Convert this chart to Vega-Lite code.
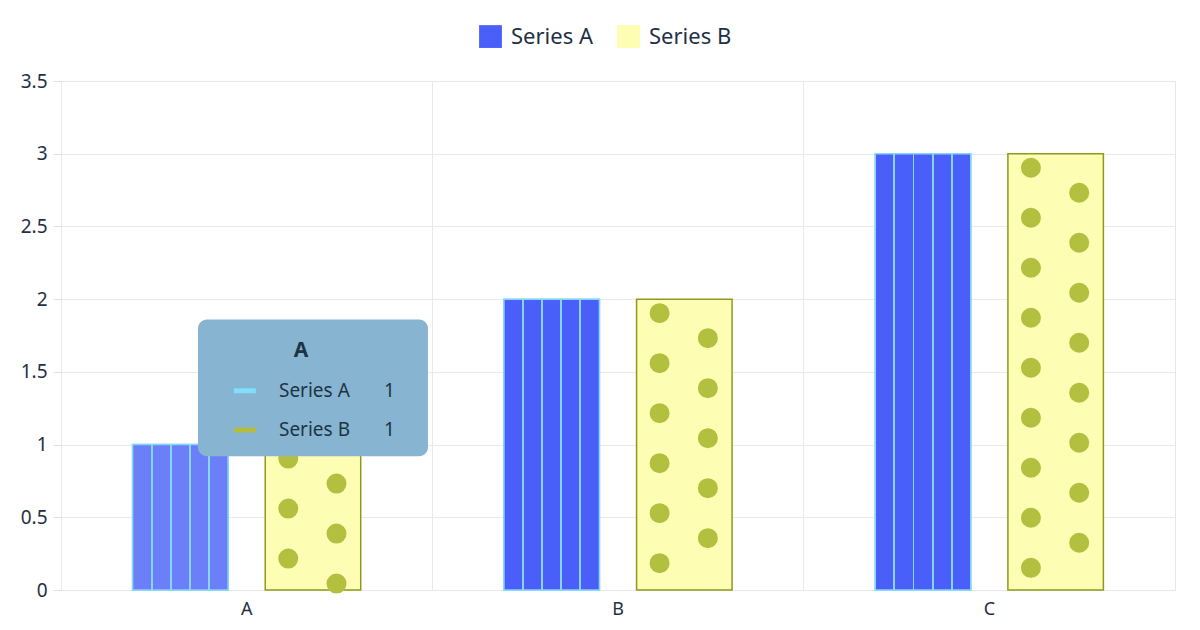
{
  "$schema": "https://vega.github.io/schema/vega-lite/v6.json",
  "description": "Grouped bar chart, Series A (striped) and Series B (dotted), with hover tooltip on A",
  "width": 1200,
  "height": 630,
  "autosize": {"type": "fit", "contains": "padding"},
  "padding": {"left": 20, "right": 25, "top": 72, "bottom": 12},
  "background": "#ffffff",
  "data": {
    "values": [
      {"category": "A", "series": "Series A", "value": 1},
      {"category": "A", "series": "Series B", "value": 1},
      {"category": "B", "series": "Series A", "value": 2},
      {"category": "B", "series": "Series B", "value": 2},
      {"category": "C", "series": "Series A", "value": 3},
      {"category": "C", "series": "Series B", "value": 3}
    ]
  },
  "encoding": {
    "x": {
      "field": "category",
      "type": "nominal",
      "scale": {"paddingInner": 0, "paddingOuter": 0},
      "axis": {
        "title": null,
        "labelAngle": 0,
        "ticks": false,
        "domain": false,
        "grid": true,
        "bandPosition": 0,
        "labelFontSize": 18,
        "labelPadding": 10
      }
    }
  },
  "layer": [
    {
      "mark": {"type": "bar", "strokeWidth": 1.5},
      "encoding": {
        "xOffset": {
          "field": "series",
          "type": "nominal",
          "scale": {"paddingInner": 0.28, "paddingOuter": 0.54}
        },
        "y": {
          "field": "value",
          "type": "quantitative",
          "scale": {"domain": [0, 3.5], "nice": false},
          "axis": {
            "title": null,
            "values": [0, 0.5, 1, 1.5, 2, 2.5, 3, 3.5],
            "format": "~g",
            "domain": false,
            "tickColor": "#e0e0e0",
            "tickSize": 8,
            "labelFontSize": 19,
            "labelPadding": 6
          }
        },
        "color": {
          "field": "series",
          "type": "nominal",
          "scale": {"domain": ["Series A", "Series B"], "range": ["#4a5ffa", "#fdfdb3"]},
          "legend": {
            "orient": "none",
            "direction": "horizontal",
            "legendX": 418,
            "legendY": -56,
            "title": null,
            "symbolType": "square",
            "symbolSize": 520,
            "symbolStrokeWidth": 0,
            "labelFontSize": 22,
            "labelOffset": 9,
            "labelColor": "#1f3044",
            "columnPadding": 24
          }
        },
        "stroke": {
          "condition": {"test": "datum.series === 'Series B'", "value": "#8e9a1c"},
          "value": "#86d6f6"
        }
      }
    },
    {
      "transform": [{"filter": "datum.series === 'Series A'"}],
      "mark": {"type": "bar", "stroke": "#86d6f6", "strokeWidth": 1.5},
      "encoding": {
        "xOffset": {"field": "series", "type": "nominal"},
        "y": {"field": "value", "type": "quantitative"},
        "fill": {
          "condition": {
            "test": "datum.category === 'A'",
            "value": {
              "gradient": "linear", "x1": 0, "x2": 1, "y1": 0, "y2": 0,
              "stops": [
                {"offset": 0, "color": "#6b7ff8"}, {"offset": 0.19, "color": "#6b7ff8"},
                {"offset": 0.19, "color": "#86d6f6"}, {"offset": 0.21, "color": "#86d6f6"},
                {"offset": 0.21, "color": "#6b7ff8"}, {"offset": 0.39, "color": "#6b7ff8"},
                {"offset": 0.39, "color": "#86d6f6"}, {"offset": 0.41, "color": "#86d6f6"},
                {"offset": 0.41, "color": "#6b7ff8"}, {"offset": 0.59, "color": "#6b7ff8"},
                {"offset": 0.59, "color": "#86d6f6"}, {"offset": 0.61, "color": "#86d6f6"},
                {"offset": 0.61, "color": "#6b7ff8"}, {"offset": 0.79, "color": "#6b7ff8"},
                {"offset": 0.79, "color": "#86d6f6"}, {"offset": 0.81, "color": "#86d6f6"},
                {"offset": 0.81, "color": "#6b7ff8"}, {"offset": 1, "color": "#6b7ff8"}
              ]
            }
          },
          "value": {
            "gradient": "linear", "x1": 0, "x2": 1, "y1": 0, "y2": 0,
            "stops": [
              {"offset": 0, "color": "#4a5ffa"}, {"offset": 0.19, "color": "#4a5ffa"},
              {"offset": 0.19, "color": "#86d6f6"}, {"offset": 0.21, "color": "#86d6f6"},
              {"offset": 0.21, "color": "#4a5ffa"}, {"offset": 0.39, "color": "#4a5ffa"},
              {"offset": 0.39, "color": "#86d6f6"}, {"offset": 0.41, "color": "#86d6f6"},
              {"offset": 0.41, "color": "#4a5ffa"}, {"offset": 0.59, "color": "#4a5ffa"},
              {"offset": 0.59, "color": "#86d6f6"}, {"offset": 0.61, "color": "#86d6f6"},
              {"offset": 0.61, "color": "#4a5ffa"}, {"offset": 0.79, "color": "#4a5ffa"},
              {"offset": 0.79, "color": "#86d6f6"}, {"offset": 0.81, "color": "#86d6f6"},
              {"offset": 0.81, "color": "#4a5ffa"}, {"offset": 1, "color": "#4a5ffa"}
            ]
          }
        }
      }
    },
    {
      "transform": [{"filter": "datum.series === 'Series B'"}],
      "mark": {
        "type": "rule", "color": "#b3bf3f", "strokeWidth": 20, "strokeCap": "round",
        "strokeDash": [0.01, 50], "strokeDashOffset": -14
      },
      "encoding": {
        "x": {"field": "category", "type": "nominal", "bandPosition": 0.612},
        "y": {"field": "value", "type": "quantitative"},
        "y2": {"datum": 0.04}
      }
    },
    {
      "transform": [{"filter": "datum.series === 'Series B'"}],
      "mark": {
        "type": "rule", "color": "#b3bf3f", "strokeWidth": 20, "strokeCap": "round",
        "strokeDash": [0.01, 50], "strokeDashOffset": -39
      },
      "encoding": {
        "x": {"field": "category", "type": "nominal", "bandPosition": 0.742},
        "y": {"field": "value", "type": "quantitative"},
        "y2": {"datum": 0.04}
      }
    },
    {
      "transform": [{"filter": "datum.category === 'A' && datum.series === 'Series B'"}],
      "mark": {"type": "bar", "color": "#87b5d1", "cornerRadius": 9, "width": 230},
      "encoding": {
        "xOffset": {"field": "series", "type": "nominal"},
        "y": {"datum": 1.86},
        "y2": {"datum": 0.92}
      }
    },
    {
      "transform": [{"filter": "datum.category === 'A' && datum.series === 'Series B'"}],
      "mark": {"type": "text", "fontSize": 21, "fontWeight": "bold", "color": "#1c3344", "dx": -12},
      "encoding": {
        "xOffset": {"field": "series", "type": "nominal"},
        "y": {"datum": 1.64},
        "text": {"field": "category"}
      }
    },
    {
      "transform": [{"filter": "datum.category === 'A' && datum.series === 'Series A'"}],
      "mark": {"type": "text", "fontSize": 19, "color": "#1c3344", "align": "left", "dx": -34},
      "encoding": {
        "xOffset": {"datum": "Series B"},
        "y": {"datum": 1.37},
        "text": {"field": "series"}
      }
    },
    {
      "transform": [{"filter": "datum.category === 'A' && datum.series === 'Series A'"}],
      "mark": {"type": "text", "fontSize": 19, "color": "#1c3344", "align": "right", "dx": 82},
      "encoding": {
        "xOffset": {"datum": "Series B"},
        "y": {"datum": 1.37},
        "text": {"field": "value"}
      }
    },
    {
      "transform": [{"filter": "datum.category === 'A' && datum.series === 'Series A'"}],
      "mark": {"type": "point", "filled": true, "opacity": 1, "shape": "M-1,-0.22H1V0.22H-1Z", "size": 484, "color": "#7fe0fa"},
      "encoding": {
        "x": {"field": "category", "type": "nominal", "bandPosition": 0.495},
        "y": {"datum": 1.37}
      }
    },
    {
      "transform": [{"filter": "datum.category === 'A' && datum.series === 'Series B'"}],
      "mark": {"type": "text", "fontSize": 19, "color": "#1c3344", "align": "left", "dx": -34},
      "encoding": {
        "xOffset": {"datum": "Series B"},
        "y": {"datum": 1.1},
        "text": {"field": "series"}
      }
    },
    {
      "transform": [{"filter": "datum.category === 'A' && datum.series === 'Series B'"}],
      "mark": {"type": "text", "fontSize": 19, "color": "#1c3344", "align": "right", "dx": 82},
      "encoding": {
        "xOffset": {"datum": "Series B"},
        "y": {"datum": 1.1},
        "text": {"field": "value"}
      }
    },
    {
      "transform": [{"filter": "datum.category === 'A' && datum.series === 'Series B'"}],
      "mark": {"type": "point", "filled": true, "opacity": 1, "shape": "M-1,-0.22H1V0.22H-1Z", "size": 484, "color": "#b5bb3c"},
      "encoding": {
        "x": {"field": "category", "type": "nominal", "bandPosition": 0.495},
        "y": {"datum": 1.1}
      }
    }
  ],
  "config": {
    "font": "Noto Sans",
    "view": {"stroke": "#e6e6e6"},
    "axis": {"gridColor": "#e9e9e9", "labelColor": "#1f3044", "labelFont": "Noto Sans"},
    "legend": {"labelFont": "Noto Sans"}
  }
}
